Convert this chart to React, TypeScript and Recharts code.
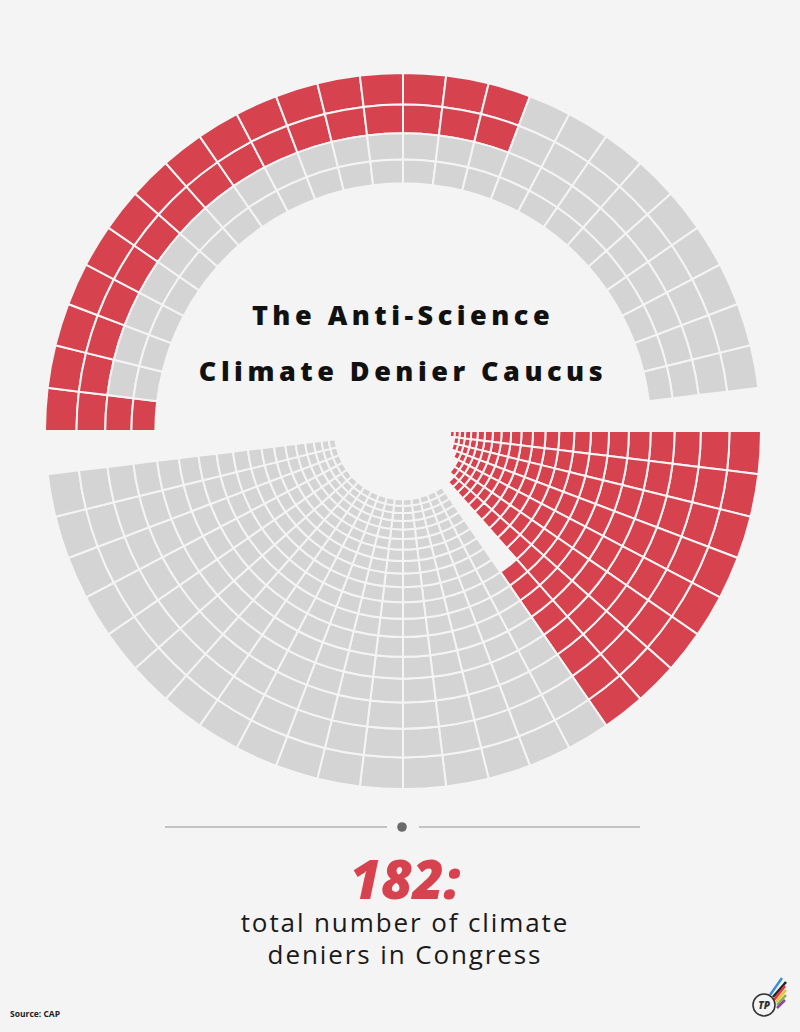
import React from 'react';
import { PieChart, Pie, Cell } from 'recharts';

// ---------- data ----------
const senateColumns = 25;
const senateRedPerRing = [16, 16, 1, 1];
const senateSeatsPerRing = [25, 25, 25, 25];

const houseColumns = 25;
const houseRedColumns = 8;
const houseRedPerRing = [8, 8, 8, 8, 8, 8, 8, 8, 7, 7, 7, 7, 7, 7, 7, 7, 7, 7, 6, 4, 3, 1];
const houseGrayPerRing = [17, 17, 17, 17, 17, 17, 17, 17, 17, 17, 17, 17, 17, 17, 17, 17, 17, 17, 0, 0, 0, 0];

const titleLines = ['The Anti-Science', 'Climate Denier Caucus'];
const totalLabel = '182:';
const subtitleLines = ['total number of climate', 'deniers in Congress'];
const sourceLabel = 'Source: CAP';

// ---------- style / layout ----------
const BG = '#f4f4f4';
const RED = '#d7424f';
const GRAY = '#d4d4d4';
const CX = 403;
const CY = 431;
const R0 = 358;
const Q = 0.912;
const COL = 360 / 52;

type Seat = { value: number; kind: 'red' | 'gray' | 'none' };

const outerR = (k: number) => R0 * Math.pow(Q, k);
const innerR = (k: number) => R0 * Math.pow(Q, k + 1);

function senateRing(k: number): Seat[] {
  const out: Seat[] = [];
  for (let i = 0; i < senateColumns; i++) {
    out.push({ value: 1, kind: i < senateRedPerRing[k] ? 'red' : i < senateSeatsPerRing[k] ? 'gray' : 'none' });
  }
  return out;
}

function houseRing(k: number): Seat[] {
  const out: Seat[] = [];
  const red = houseRedPerRing[k];
  const gray = houseGrayPerRing[k];
  for (let i = 0; i < houseColumns; i++) {
    let kind: Seat['kind'] = 'none';
    if (i < red) kind = 'red';
    else if (i >= houseRedColumns && i < houseRedColumns + gray) kind = 'gray';
    out.push({ value: 1, kind });
  }
  return out;
}

const fillOf = (k: Seat['kind']) => (k === 'red' ? RED : k === 'gray' ? GRAY : 'none');

export default function App() {
  return (
    <div style={{ position: 'absolute', left: 0, top: 0, width: 800, height: 1032, background: BG, overflow: 'hidden' }}>
      <div style={{ position: 'absolute', left: 0, top: 0 }}>
        <PieChart width={800} height={800} margin={{ top: 0, right: 0, bottom: 0, left: 0 }}>
          {senateRedPerRing.map((_, k) => (
            <Pie
              key={'s' + k}
              data={senateRing(k)}
              dataKey="value"
              cx={CX}
              cy={CY}
              innerRadius={innerR(k)}
              outerRadius={outerR(k)}
              startAngle={180}
              endAngle={180 - senateColumns * COL}
              paddingAngle={0}
              isAnimationActive={false}
              label={false}
              labelLine={false}
            >
              {senateRing(k).map((d, i) => (
                <Cell key={i} fill={fillOf(d.kind)} stroke={d.kind === 'none' ? 'none' : BG} strokeWidth={2} />
              ))}
            </Pie>
          ))}
          {houseRedPerRing.map((_, k) => (
            <Pie
              key={'h' + k}
              data={houseRing(k)}
              dataKey="value"
              cx={CX}
              cy={CY}
              innerRadius={innerR(k)}
              outerRadius={outerR(k)}
              startAngle={0}
              endAngle={-houseColumns * COL}
              paddingAngle={0}
              isAnimationActive={false}
              label={false}
              labelLine={false}
            >
              {houseRing(k).map((d, i) => (
                <Cell key={i} fill={fillOf(d.kind)} stroke={d.kind === 'none' ? 'none' : BG} strokeWidth={2} />
              ))}
            </Pie>
          ))}
        </PieChart>
      </div>
      <svg width={800} height={1032} style={{ position: 'absolute', left: 0, top: 0, pointerEvents: 'none' }}>
        <text x={403} y={325} textAnchor="middle" fontFamily="'Open Sans', sans-serif" fontWeight={800} fontSize={27} letterSpacing={4.5} fill="#111">
          {titleLines[0]}
        </text>
        <text x={403} y={381} textAnchor="middle" fontFamily="'Open Sans', sans-serif" fontWeight={800} fontSize={27} letterSpacing={4.5} fill="#111">
          {titleLines[1]}
        </text>
        <line x1={165} y1={827} x2={387} y2={827} stroke="#b3b3b3" strokeWidth={1.5} />
        <line x1={419} y1={827} x2={640} y2={827} stroke="#b3b3b3" strokeWidth={1.5} />
        <circle cx={402} cy={827} r={4.8} fill="#6a6a6a" />
        <text x={405} y={899} textAnchor="middle" fontFamily="'Open Sans', sans-serif" fontWeight={800} fontStyle="italic" fontSize={54} fill={RED}>
          {totalLabel}
        </text>
        <text x={405} y={932} textAnchor="middle" fontFamily="'Open Sans', sans-serif" fontWeight={400} fontSize={26} letterSpacing={1.9} fill="#1a1a1a">
          {subtitleLines[0]}
        </text>
        <text x={405} y={964} textAnchor="middle" fontFamily="'Open Sans', sans-serif" fontWeight={400} fontSize={26} letterSpacing={1.9} fill="#1a1a1a">
          {subtitleLines[1]}
        </text>
        <text x={10} y={1017} fontFamily="'Liberation Sans Narrow', 'Open Sans', sans-serif" fontWeight={700} fontSize={8.5} fill="#222">
          {sourceLabel}
        </text>
        <g>
          <line x1={770} y1={995} x2={782} y2={978} stroke="#3b8fd9" strokeWidth={2.5} />
          <line x1={773} y1={997} x2={786} y2={982} stroke="#222" strokeWidth={2.5} />
          <line x1={774} y1={1000} x2={785} y2={986} stroke="#e0393e" strokeWidth={2.5} />
          <line x1={776} y1={1002} x2={786} y2={990} stroke="#f2c12e" strokeWidth={2.5} />
          <line x1={777} y1={1005} x2={786} y2={995} stroke="#7ab648" strokeWidth={2.5} />
          <line x1={777} y1={1008} x2={785} y2={1000} stroke="#8e44ad" strokeWidth={2.5} />
          <circle cx={764} cy={1005} r={11} fill="#f4f4f4" stroke="#333" strokeWidth={1.6} />
          <text x={764} y={1009} textAnchor="middle" fontFamily="'Open Sans', sans-serif" fontWeight={800} fontStyle="italic" fontSize={10} fill="#333">
            TP
          </text>
        </g>
      </svg>
    </div>
  );
}
